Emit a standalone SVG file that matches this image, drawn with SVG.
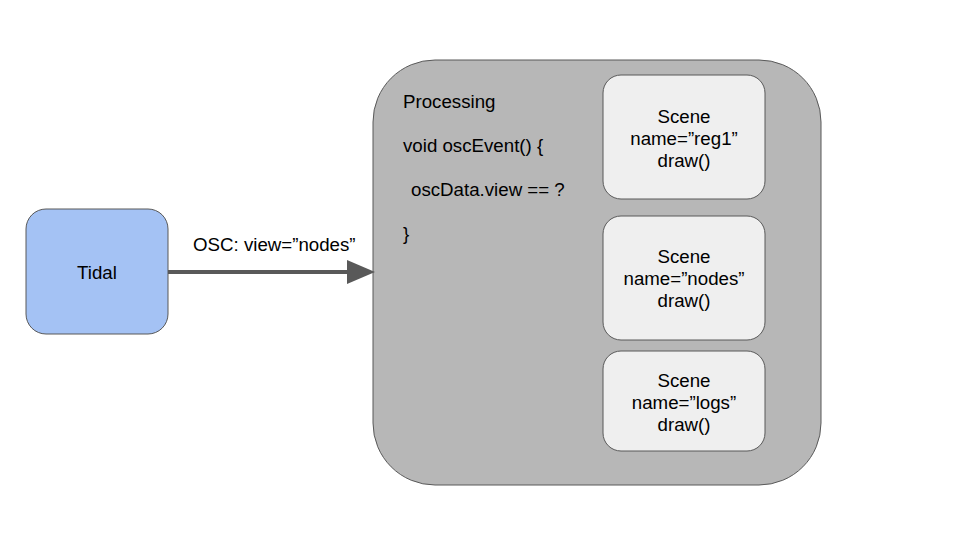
<svg xmlns="http://www.w3.org/2000/svg" width="960" height="540" viewBox="0 0 960 540">
<style>
text{font-family:"Liberation Sans",Arial,sans-serif;font-size:18.7px;fill:#000}
.c{text-anchor:middle}
.scene{fill:#efefef;stroke:#595959;stroke-width:1}
</style>
<defs>
<marker id="ah" markerWidth="8" markerHeight="6" refX="0" refY="3" orient="auto" markerUnits="strokeWidth">
<path d="M0,0 L7,3 L0,6 Z" fill="#595959"/>
</marker>
</defs>
<rect width="960" height="540" fill="#fff"/>
<g id="tidal">
<rect x="26" y="209" width="142" height="125" rx="20" fill="#a4c2f4" stroke="#595959" stroke-width="1"/>
<text class="c" x="97" y="279">Tidal</text>
</g>
<g id="processing">
<rect x="373" y="60" width="448" height="425" rx="62" fill="#b7b7b7" stroke="#595959" stroke-width="1"/>
<text x="403" y="108">Processing</text>
<text x="403" y="152">void oscEvent() {</text>
<text x="411" y="196">oscData.view == ?</text>
<text x="403" y="240">}</text>
</g>
<g id="scene-reg1">
<rect class="scene" x="603" y="75" width="162" height="124" rx="18"/>
<text class="c" x="684" y="123">Scene</text>
<text class="c" x="684" y="145">name=”reg1”</text>
<text class="c" x="684" y="167">draw()</text>
</g>
<g id="scene-nodes">
<rect class="scene" x="603" y="216" width="162" height="124" rx="18"/>
<text class="c" x="684" y="263">Scene</text>
<text class="c" x="684" y="285">name=”nodes”</text>
<text class="c" x="684" y="307">draw()</text>
</g>
<g id="scene-logs">
<rect class="scene" x="603" y="351" width="162" height="100" rx="18"/>
<text class="c" x="684" y="387">Scene</text>
<text class="c" x="684" y="409">name=”logs”</text>
<text class="c" x="684" y="431">draw()</text>
</g>
<g id="connectors">
<line x1="168" y1="272" x2="347" y2="272" stroke="#595959" stroke-width="4" marker-end="url(#ah)"/>
<text x="193" y="251">OSC: view=”nodes”</text>
</g>
</svg>
